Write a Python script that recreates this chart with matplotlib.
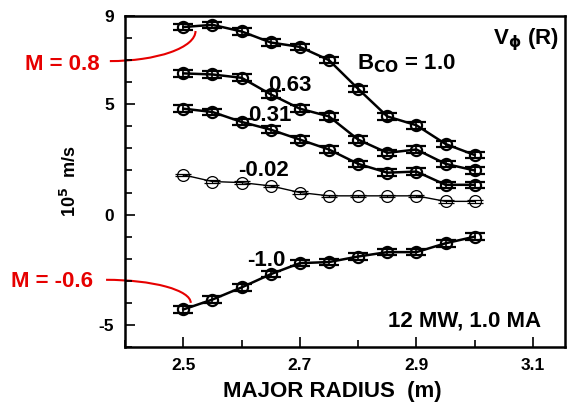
import numpy as np
import matplotlib.pyplot as plt
from matplotlib.patches import Arc
from matplotlib.ticker import MultipleLocator

plt.rcParams['font.family'] = ['Liberation Sans', 'DejaVu Sans']
plt.rcParams['font.weight'] = 'bold'
plt.rcParams['mathtext.default'] = 'bf'
plt.rcParams['axes.unicode_minus'] = False

# DATOS
radio = [2.50, 2.55, 2.60, 2.65, 2.70, 2.75, 2.80, 2.85, 2.90, 2.95, 3.00]
v_b100 = [8.5, 8.6, 8.3, 7.8, 7.6, 7.0, 5.7, 4.45, 4.05, 3.2, 2.7]
v_b063 = [6.4, 6.35, 6.2, 5.45, 4.8, 4.45, 3.4, 2.8, 2.95, 2.3, 2.0]
v_b031 = [4.8, 4.65, 4.2, 3.85, 3.4, 2.95, 2.3, 1.9, 1.95, 1.35, 1.35]
v_b002 = [1.8, 1.5, 1.45, 1.3, 1.0, 0.85, 0.85, 0.85, 0.85, 0.6, 0.6]
v_bm10 = [-4.3, -3.85, -3.3, -2.7, -2.2, -2.15, -1.9, -1.7, -1.7, -1.3, -1.0]
error_v = 0.15

rojo = '#e60000'

fig = plt.figure(figsize=(5.67, 4.07), dpi=100)
ax = fig.add_axes([125/567, 1 - 347/407, 440/567, 331/407])

# SERIES GRUESAS
for v in [v_b100, v_b063, v_b031, v_bm10]:
    ax.errorbar(radio, v, yerr=error_v, fmt='-o', color='black', lw=1.8,
                mfc='none', mec='black', mew=1.6, ms=8,
                ecolor='black', elinewidth=1.2, capsize=7, capthick=1.2)

# SERIE DELGADA
ax.errorbar(radio, v_b002, yerr=0.06, fmt='-o', color='black', lw=1.0,
            mfc='none', mec='black', mew=0.9, ms=8.5,
            ecolor='black', elinewidth=0.8, capsize=6, capthick=0.8)

ax.set_xlim(2.4, 3.155)
ax.set_ylim(-6, 9)
ax.set_xticks([2.5, 2.7, 2.9, 3.1])
ax.set_yticks([-5, 0, 5, 9])
ax.xaxis.set_minor_locator(MultipleLocator(0.1))
ax.yaxis.set_minor_locator(MultipleLocator(1))
ax.tick_params(which='both', direction='in', top=False, right=False, width=1.2)
ax.tick_params(which='major', length=7, labelsize=12.5, pad=8)
ax.tick_params(which='minor', length=5)
for s in ax.spines.values():
    s.set_linewidth(1.8)

ax.set_xlabel('MAJOR RADIUS  (m)', fontsize=16, fontweight='bold')
ax.xaxis.set_label_coords((332 - 125) / 440, -(391 - 347) / 331, transform=ax.transAxes)
ax.xaxis.label.set_va('center')
ax.set_ylabel(r'10$^{5}$  m/s', fontsize=13, fontweight='bold')
ax.yaxis.set_label_coords(-(125 - 70) / 440, 0.5)
ax.yaxis.label.set_va('center')

# ETIQUETAS
kw = dict(fontsize=16, fontweight='bold', ha='left', va='baseline')
ax.text(3.031, 7.73, r'V$_{\phi}$ (R)', **kw)
ax.text(2.798, 6.59, r'B$_{\mathbf{CO}}$ = 1.0', **kw)
ax.text(2.645, 5.6, '0.63', **kw)
ax.text(2.611, 4.23, '0.31', **kw)
ax.text(2.594, 1.73, '-0.02', **kw)
ax.text(2.609, -2.32, '-1.0', **kw)
ax.text(2.851, -5.09, '12 MW, 1.0 MA', **kw)

# ANOTACIONES M
ax.text(2.292, 6.82, 'M = 0.8', color=rojo, fontsize=16, fontweight='bold',
        ha='center', va='center', clip_on=False)
ax.add_patch(Arc((2.374, 8.32), 0.294, 2.727, theta1=270, theta2=360,
                 color=rojo, lw=1.5, clip_on=False))
ax.text(2.275, -3.05, 'M = -0.6', color=rojo, fontsize=16, fontweight='bold',
        ha='center', va='center', clip_on=False)
ax.add_patch(Arc((2.3675, -4.0), 0.2906, 2.09, theta1=0, theta2=90,
                 color=rojo, lw=1.5, clip_on=False))

plt.savefig('out.png', dpi=100)
